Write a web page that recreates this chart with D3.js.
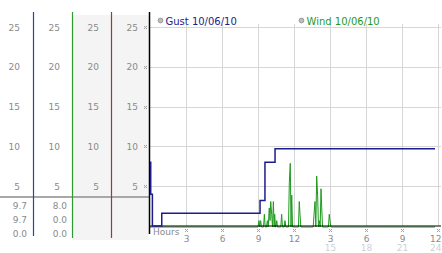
<!DOCTYPE html>
<html>
<head>
<meta charset="utf-8">
<script src="https://cdn.jsdelivr.net/npm/d3@7"></script>
<style>
  body { margin: 0; background: #fff; }
  svg { display: block; font-family: "DejaVu Sans", Verdana, sans-serif; }
</style>
</head>
<body>
<svg id="chart" width="442" height="253"></svg>
<script>
'use strict';

// y ticks (same scale in every column)
var yTicks = [5, 10, 15, 20, 25];
// x ticks, hours since midnight
var hourTicks = [3, 6, 9, 12, 15, 18, 21, 24];
var hourLabels = ['3', '6', '9', '12', '3', '6', '9', '12'];
var hourLabels24 = ['', '', '', '', '15', '18', '21', '24'];

// legend
var seriesNames = ['Gust 10/06/10', 'Wind 10/06/10'];
var seriesColors = ['#1c1c8e', '#1f9a1f'];
var columnLineColors = ['#2a45a0', '#2f9a2f', '#b03030'];

// summary values under the axis columns (current / max / min)
var gustSummary = ['9.7', '9.7', '0.0'];
var windSummary = ['8.0', '0.0', '0.0'];

// gust, step series [hour, value]
var gustReadings = [[0, 8.0], [0.06, 4.0], [0.2, 0], [0.98, 1.6], [9.17, 3.2],
    [9.58, 8.0], [10.42, 9.7], [23.75, 9.7]];

// wind readings [hour, value]
var windReadings = [[0, 0], [9.0, 0], [9.08, 0.8], [9.15, 0], [9.22, 0.8], [9.29, 0],
    [9.46, 0], [9.53, 1.6], [9.6, 0], [9.71, 0], [9.78, 0.8], [9.85, 0],
    [9.94, 2.4], [10.0, 0.8], [10.06, 3.2], [10.14, 1.6], [10.21, 0], [10.28, 3.2],
    [10.35, 0], [10.39, 1.6], [10.46, 0], [10.5, 0], [10.56, 0.8], [10.63, 0],
    [10.9, 0], [10.97, 1.6], [11.04, 0], [11.18, 0], [11.25, 0.8], [11.32, 0],
    [11.54, 0], [11.61, 5.6], [11.69, 8.0], [11.75, 0], [11.81, 4.0], [11.88, 0],
    [12.37, 0], [12.44, 3.2], [12.5, 1.6], [12.57, 0], [13.6, 0], [13.67, 1.6],
    [13.75, 3.2], [13.82, 0], [13.89, 6.4], [13.97, 4.0], [14.04, 0], [14.11, 0.8],
    [14.18, 0], [14.25, 4.8], [14.31, 2.4], [14.38, 0], [14.87, 0], [14.94, 1.6],
    [15.0, 0.8], [15.07, 0], [23.75, 0]];

var svg = d3.select('#chart');

var x = d3.scaleLinear().domain([0, 24]).range([150, 438]);
var y = d3.scaleLinear().domain([0, 25]).range([226, 27]);

// tiny checkered marker, like the original gif icons
function marker(g, cx, cy) {
    var cells = [[-1, -1], [1, -1], [0, 0], [-1, 1], [1, 1]];
    cells.forEach(function(c) {
        g.append('rect')
            .attr('x', Math.round(cx) + c[0]).attr('y', Math.round(cy) + c[1])
            .attr('width', 1).attr('height', 1)
            .attr('fill', '#a0a0a0');
    });
}

// left panel: shaded columns
svg.append('rect').attr('x', 73).attr('y', 15).attr('width', 76).attr('height', 225)
    .attr('fill', '#f4f4f4');

// left panel: separator line above summary
svg.append('rect').attr('x', 0).attr('y', 196).attr('width', 149).attr('height', 2)
    .attr('fill', '#a8a8a8');

// column lines
var colLineX = [33.5, 72.5, 111.5];
colLineX.forEach(function(cx, i) {
    svg.append('line')
        .attr('x1', cx).attr('x2', cx).attr('y1', 12).attr('y2', i === 0 ? 236 : 238)
        .attr('stroke', columnLineColors[i]).attr('stroke-width', 1.2);
});

// tick labels in each of the 4 columns
var colRight = [20, 60, 99, 138];
colRight.forEach(function(rx) {
    svg.append('g').selectAll('text')
        .data(yTicks)
        .join('text')
        .attr('x', rx)
        .attr('y', function(d) { return y(d) + 3.5; })
        .attr('text-anchor', 'end')
        .attr('font-size', 9)
        .attr('fill', '#8a8a8a')
        .text(function(d) { return d; });
});

// summary values
[[27, gustSummary], [67, windSummary]].forEach(function(col) {
    svg.append('g').selectAll('text')
        .data(col[1])
        .join('text')
        .attr('x', col[0])
        .attr('y', function(d, i) { return 208.5 + i * 14; })
        .attr('text-anchor', 'end')
        .attr('font-size', 9)
        .attr('fill', '#8a8a8a')
        .text(function(d) { return d; });
});

// grid
var grid = svg.append('g').attr('stroke', '#d6d6d6').attr('stroke-width', 1);
grid.selectAll('line.h')
    .data(yTicks)
    .join('line')
    .attr('class', 'h')
    .attr('x1', 150).attr('x2', 441)
    .attr('y1', function(d) { return Math.round(y(d)) + 0.5; })
    .attr('y2', function(d) { return Math.round(y(d)) + 0.5; });
grid.selectAll('line.v')
    .data(hourTicks)
    .join('line')
    .attr('class', 'v')
    .attr('x1', function(d) { return Math.round(x(d)) + 0.5; })
    .attr('x2', function(d) { return Math.round(x(d)) + 0.5; })
    .attr('y1', 24).attr('y2', 226);

// small tick markers
var markers = svg.append('g');
yTicks.forEach(function(d) { marker(markers, 145, y(d)); });
hourTicks.forEach(function(d) { marker(markers, x(d), 230); });

// hour labels (last one kept inside the frame)
function labelX(d, i) { return i === hourTicks.length - 1 ? 441.5 : x(d) + 0.5; }
function labelAnchor(d, i) { return i === hourTicks.length - 1 ? 'end' : 'middle'; }
svg.append('g').selectAll('text')
    .data(hourTicks)
    .join('text')
    .attr('x', labelX)
    .attr('y', 242)
    .attr('text-anchor', labelAnchor)
    .attr('font-size', 9)
    .attr('fill', '#8a8a8a')
    .text(function(d, i) { return hourLabels[i]; });
svg.append('g').selectAll('text')
    .data(hourTicks)
    .join('text')
    .attr('x', labelX)
    .attr('y', 251)
    .attr('text-anchor', labelAnchor)
    .attr('font-size', 9)
    .attr('fill', '#d0d0d0')
    .text(function(d, i) { return hourLabels24[i]; });

svg.append('text')
    .attr('x', 153).attr('y', 235)
    .attr('font-size', 9)
    .attr('fill', '#8a8a8a')
    .text('Hours');

// wind line (drawn 1px under the axis)
var windLine = d3.line()
    .x(function(d) { return x(d[0]); })
    .y(function(d) { return y(d[1]) + 1; });
svg.append('path')
    .datum(windReadings)
    .attr('d', windLine)
    .attr('fill', 'none')
    .attr('stroke', seriesColors[1])
    .attr('stroke-width', 1);

// axes lines
svg.append('line').attr('x1', 149.5).attr('x2', 149.5).attr('y1', 12).attr('y2', 234)
    .attr('stroke', '#000').attr('stroke-width', 1.5);
svg.append('line').attr('x1', 149).attr('x2', 441).attr('y1', 226).attr('y2', 226)
    .attr('stroke', '#000').attr('stroke-width', 1.2);

// gust line
var gustLine = d3.line()
    .curve(d3.curveStepAfter)
    .x(function(d) { return x(d[0]); })
    .y(function(d) { return y(d[1]); });
svg.append('path')
    .datum(gustReadings)
    .attr('d', gustLine)
    .attr('fill', 'none')
    .attr('stroke', seriesColors[0])
    .attr('stroke-width', 1.5);

// legend
var legendX = [160.5, 301.5];
seriesNames.forEach(function(name, i) {
    svg.append('circle')
        .attr('cx', legendX[i]).attr('cy', 20.5).attr('r', 2.4)
        .attr('fill', '#bdbdbd').attr('stroke', '#8c8c8c').attr('stroke-width', 0.8);
    svg.append('text')
        .attr('x', legendX[i] + 5).attr('y', 24.5)
        .attr('font-size', 10)
        .attr('fill', seriesColors[i])
        .text(name);
});
</script>
</body>
</html>
